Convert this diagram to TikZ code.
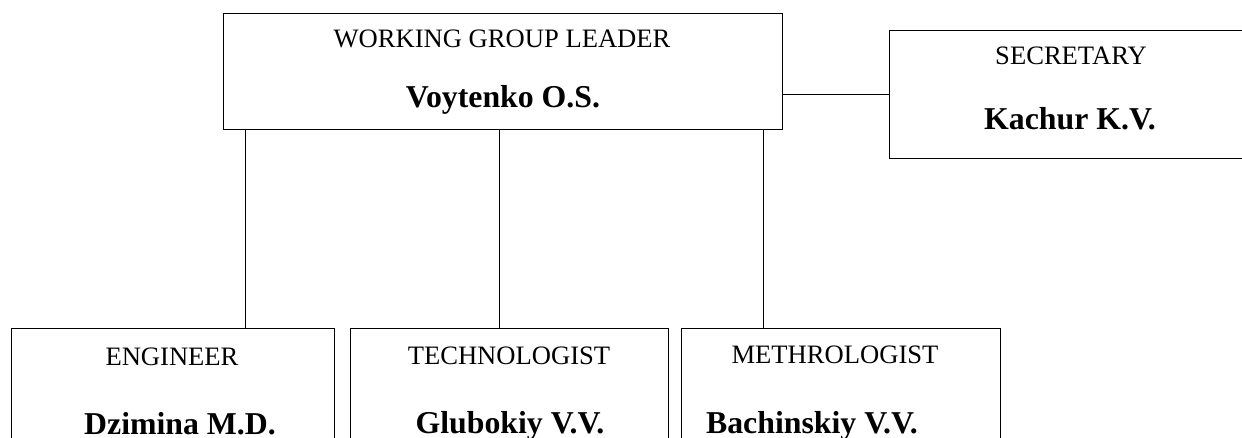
\documentclass[tikz,border=0pt]{standalone}
\usepackage{fontspec}
\setmainfont{Liberation Serif}
\begin{document}
\begin{tikzpicture}[x=1pt,y=-1pt,
    post/.style ={draw, line width=1.4pt, anchor=north west, inner sep=0pt},
    role/.style ={anchor=base, inner sep=0pt, font=\fontsize{26.6}{30}\selectfont},
    person/.style ={anchor=base, inner sep=0pt, font=\fontsize{31.8}{36}\selectfont\bfseries},
    link/.style ={line width=1.4pt}]
   \useasboundingbox (0,0) rectangle (1242,437);
   \clip (0,0) rectangle (1242,437);
   % boxes
   \node[post, minimum width=559pt, minimum height=116pt] (leader) at (223,13) {};
   \node[post, minimum width=364pt, minimum height=128pt] (secretary) at (889,30) {};
   \node[post, minimum width=323pt, minimum height=150pt] (engineer) at (11,328) {};
   \node[post, minimum width=318pt, minimum height=150pt] (technologist) at (350,328) {};
   \node[post, minimum width=319pt, minimum height=150pt] (methrologist) at (681,328) {};
   % texts
   \node[role] (leadertitle) at (502,47) {WORKING GROUP LEADER};
   \node[person] (leadername) at (503,107) {Voytenko O.S.};
   \node[role] (sectitle) at (1071,64) {SECRETARY};
   \node[person] (secname) at (1070,129) {Kachur K.V.};
   \node[role] (engtitle) at (172,365) {ENGINEER};
   \node[person] (engname) at (180,434) {Dzimina M.D.};
   \node[role] (techtitle) at (509,364) {TECHNOLOGIST};
   \node[person] (techname) at (510,433) {Glubokiy V.V.};
   \node[role] (methtitle) at (835,363) {METHROLOGIST};
   \node[person] (methname) at (812,433) {Bachinskiy V.V.};
   % connectors
   \draw[link] (secretary.west) -- (secretary.west -| leader.east);
   \draw[link] ([xshift=-257.5pt]leader.south) -- ([xshift=-257.5pt]leader.south |- engineer.north);
   \draw[link] ([xshift=-3.5pt]leader.south) -- ([xshift=-3.5pt]leader.south |- technologist.north);
   \draw[link] ([xshift=260.5pt]leader.south) -- ([xshift=260.5pt]leader.south |- methrologist.north);
 \end{tikzpicture}
\end{document}
